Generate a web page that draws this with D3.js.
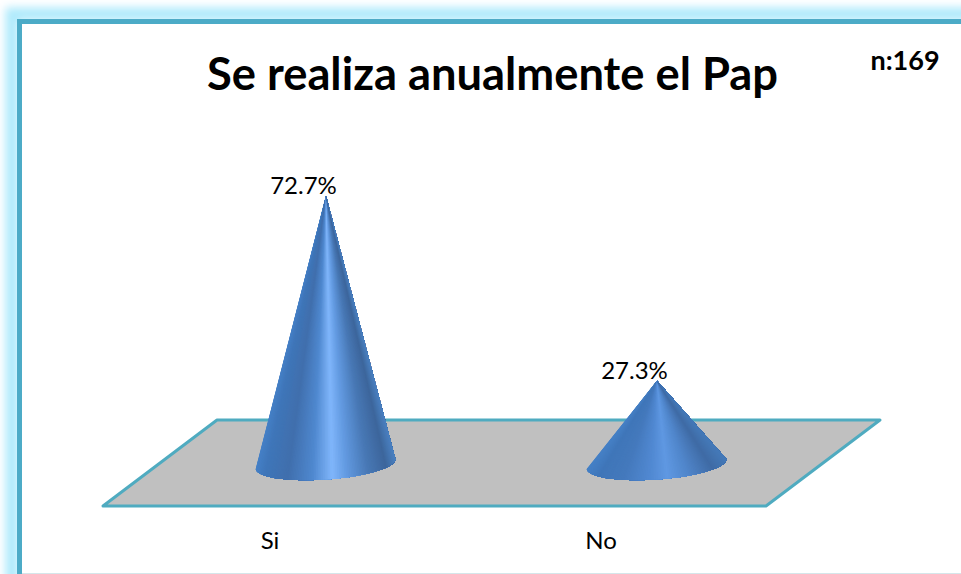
<!DOCTYPE html>
<html>
<head>
    <title>Se realiza anualmente el Pap</title>
    <script src="https://cdnjs.cloudflare.com/ajax/libs/d3/7.8.5/d3.min.js"></script>
    <style>
        html, body { margin: 0; padding: 0; background: #fff; overflow: hidden; }
        svg { display: block; }
        text { font-family: Lato, "Open Sans", sans-serif; fill: #000; }
    </style>
</head>
<body>
    <div id="chart"></div>
    <script>
        const categories = ['Si', 'No'];
        const values = [72.7, 27.3];
        const valueLabels = ['72.7%', '27.3%'];
        const titleText = 'Se realiza anualmente el Pap';
        const sampleText = 'n:169';

        const width = 961, height = 574;
        const baseY = 464;

        const svg = d3.select('#chart').append('svg')
            .attr('width', width)
            .attr('height', height);
        const defs = svg.append('defs');

        defs.append('filter').attr('id', 'glow')
            .attr('x', '-10%').attr('y', '-10%').attr('width', '120%').attr('height', '120%')
            .append('feGaussianBlur').attr('stdDeviation', 4.5);

        // frame, runs off the right and bottom of the picture
        svg.append('rect')
            .attr('x', 12).attr('y', 14).attr('width', 1000).attr('height', 700)
            .attr('fill', 'none')
            .attr('stroke', '#aeeafc').attr('stroke-width', 13)
            .attr('filter', 'url(#glow)');
        svg.append('rect')
            .attr('x', 19.5).attr('y', 21.5).attr('width', 1000).attr('height', 700)
            .attr('fill', '#fff')
            .attr('stroke', '#4cabc7').attr('stroke-width', 5);
        svg.append('line')
            .attr('x1', 22).attr('x2', width).attr('y1', 573.5).attr('y2', 573.5)
            .attr('stroke', '#d5e6ea');

        // floor of the 3D plot
        const floor = [[103, 506], [217, 420], [880, 420], [766, 506]];
        svg.append('path')
            .attr('d', d3.line()(floor) + 'Z')
            .attr('fill', '#c0c0c0')
            .attr('stroke', '#4fabc0')
            .attr('stroke-width', 3)
            .attr('stroke-linejoin', 'round');

        const x = d3.scalePoint().domain(categories).range([325.5, 656.5]);
        const y = d3.scaleLinear().domain([0, 100]).range([492, 84.5]);

        // colour across the cone, 0 = left rim, 1 = right rim
        const tallShade = d3.scaleLinear()
            .domain([0, 0.06, 0.22, 0.4, 0.54, 0.64, 0.8, 0.93, 1])
            .range(['#4580c6', '#3f76b9', '#406fad', '#4f88cf', '#80b6fb', '#639be2', '#4878b5', '#3d669c', '#4a80c0']);
        const shortShade = d3.scaleLinear()
            .domain([0, 0.08, 0.25, 0.45, 0.57, 0.72, 0.9, 1])
            .range(['#4580c6', '#3f76b9', '#4479bc', '#5189d2', '#5f98e2', '#5086cb', '#3f6ba5', '#4479b8']);

        const rx = 70, ry = 15.5;
        const tilt = -4 * Math.PI / 180;
        const slices = d3.range(120);

        // rim point of the base ellipse, t runs from left rim (0) to right rim (1) along the front
        function rim(cx, t) {
            const a = Math.PI * (1 - t);
            const ux = rx * Math.cos(a), uy = ry * Math.sin(a);
            return [cx + ux * Math.cos(tilt) - uy * Math.sin(tilt),
                baseY + ux * Math.sin(tilt) + uy * Math.cos(tilt)];
        }

        const cones = svg.selectAll('.cone')
            .data(categories)
            .enter()
            .append('g')
            .attr('class', 'cone');

        // slices from tip to rim so the highlight converges at the tip,
        // each one runs to the right rim and the next paints over it, no seams that way
        cones.each(function (d, i) {
            const cx = x(d);
            const tip = [cx + 0.5, y(values[i])];
            const shade = i === 0 ? tallShade : shortShade;
            d3.select(this).selectAll('path')
                .data(slices)
                .enter()
                .append('path')
                .attr('d', s => {
                    const rest = d3.range(s, slices.length + 1).map(k => rim(cx, k / slices.length));
                    return d3.line()([tip].concat(rest)) + 'Z';
                })
                .attr('fill', s => shade((1 - Math.cos(Math.PI * (s + 0.5) / slices.length)) / 2));
        });

        cones.append('text')
            .attr('x', d => x(d) - 22)
            .attr('y', (d, i) => y(values[i]) - 2)
            .attr('text-anchor', 'middle')
            .style('font-size', '24px')
            .text((d, i) => valueLabels[i]);

        // category labels sit left of the cones because of the perspective
        const axis = svg.append('g')
            .attr('transform', 'translate(-56,526)')
            .call(d3.axisBottom(x).tickSize(0).tickPadding(0));
        axis.select('.domain').remove();
        axis.selectAll('.tick text')
            .attr('dy', '0.95em')
            .style('font-family', 'Lato, sans-serif')
            .style('font-size', '24px');

        svg.append('text')
            .attr('x', 492.5)
            .attr('y', 90)
            .attr('text-anchor', 'middle')
            .style('font-size', '45.3px')
            .style('font-weight', 700)
            .text(titleText);

        svg.append('text')
            .attr('x', 905)
            .attr('y', 70)
            .attr('text-anchor', 'middle')
            .style('font-size', '27px')
            .style('font-weight', 700)
            .text(sampleText);
    </script>
</body>
</html>
